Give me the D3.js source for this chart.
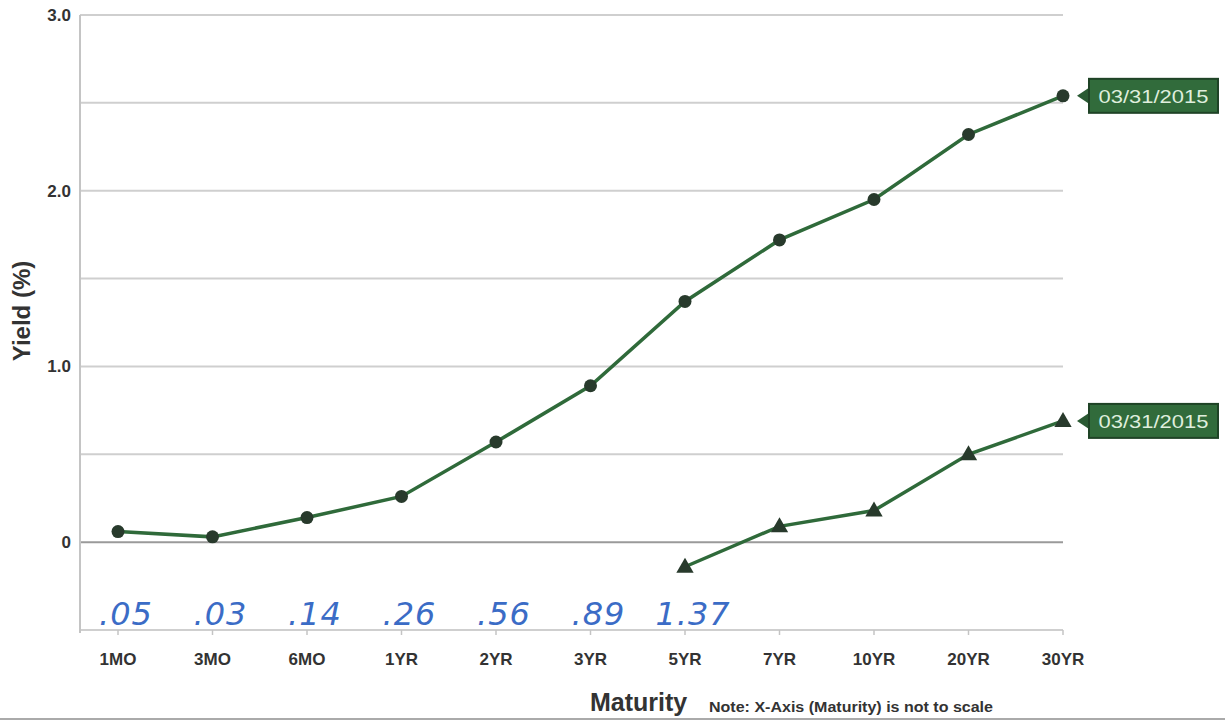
<!DOCTYPE html>
<html><head><meta charset="utf-8">
<script src="https://cdn.jsdelivr.net/npm/d3@7"></script>
<style>body{margin:0;background:#fff}svg{display:block}</style>
</head><body>
<script>
const maturities = ["1MO","3MO","6MO","1YR","2YR","3YR","5YR","7YR","10YR","20YR","30YR"];
const nominalYields = [0.06,0.03,0.14,0.26,0.57,0.89,1.37,1.72,1.95,2.32,2.54];
const tipsMaturities = ["5YR","7YR","10YR","20YR","30YR"];
const tipsYields = [-0.14,0.09,0.18,0.50,0.69];
const yTicks = [0,1.0,2.0,3.0];
const yTickLabels = ["0","1.0","2.0","3.0"];
const gridValues = [-0.5,0,0.5,1.0,1.5,2.0,2.5,3.0];
const handNotes = [".05",".03",".14",".26",".56",".89","1.37"];
const seriesLabel = "03/31/2015";

(function(){
const W=1225,H=723;
const svg=d3.select("body").append("svg").attr("width",W).attr("height",H);
const pL=80,pR=1063,pT=15,pB=630;
const x=d3.scalePoint().domain(maturities).range([118,1063]);
const y=d3.scaleLinear().domain([-0.5,3.0]).range([pB,pT]);
const font="Liberation Sans, Arial, sans-serif";

svg.append("g").selectAll("line").data(gridValues).join("line")
  .attr("x1",pL).attr("x2",pR)
  .attr("y1",d=>y(d)).attr("y2",d=>y(d))
  .attr("stroke",d=>d===0?"#9a9a9a":"#cfcfcf")
  .attr("stroke-width",2);
svg.append("line").attr("x1",pL).attr("x2",pL).attr("y1",pT).attr("y2",pB+3)
  .attr("stroke","#c4c4c4").attr("stroke-width",2);
svg.append("g").selectAll("line").data(maturities).join("line")
  .attr("x1",d=>x(d)).attr("x2",d=>x(d)).attr("y1",pB).attr("y2",pB+5)
  .attr("stroke","#c4c4c4").attr("stroke-width",1.5);

svg.append("g").selectAll("text").data(yTicks).join("text")
  .attr("x",71).attr("y",d=>y(d)+6).attr("text-anchor","end")
  .attr("font-family",font).attr("font-weight","bold")
  .attr("font-size",17).attr("fill","#333").text((d,i)=>yTickLabels[i]);
svg.append("g").selectAll("text").data(maturities).join("text")
  .attr("x",d=>x(d)).attr("y",665).attr("text-anchor","middle")
  .attr("font-family",font).attr("font-weight","bold")
  .attr("font-size",17).attr("fill","#333").text(d=>d);

svg.append("text").attr("transform","translate(30,311) rotate(-90)").attr("text-anchor","middle")
  .attr("font-family",font).attr("font-weight","bold")
  .attr("font-size",24).attr("fill","#333").text("Yield (%)");
svg.append("text").attr("x",590).attr("y",711)
  .attr("font-family",font).attr("font-weight","bold")
  .attr("font-size",25).attr("fill","#333").text("Maturity");
svg.append("text").attr("x",709).attr("y",712)
  .attr("font-family",font).attr("font-weight","bold")
  .attr("font-size",14).attr("textLength",284).attr("lengthAdjust","spacingAndGlyphs")
  .attr("fill","#333").text("Note: X-Axis (Maturity) is not to scale");
svg.append("line").attr("x1",0).attr("x2",W).attr("y1",719).attr("y2",719).attr("stroke","#aaa").attr("stroke-width",2);

const lineColor="#2f6a3a", markerColor="#283a2c";
const line=d3.line().x(d=>x(d[0])).y(d=>y(d[1]));
const nom=maturities.map((m,i)=>[m,nominalYields[i]]);
const tips=tipsMaturities.map((m,i)=>[m,tipsYields[i]]);
svg.append("path").attr("d",line(nom)).attr("fill","none").attr("stroke",lineColor).attr("stroke-width",3.5);
svg.append("path").attr("d",line(tips)).attr("fill","none").attr("stroke",lineColor).attr("stroke-width",3.5);
svg.append("g").selectAll("circle").data(nom).join("circle")
  .attr("cx",d=>x(d[0])).attr("cy",d=>y(d[1])).attr("r",6.5).attr("fill",markerColor);
const tri=d3.symbol().type(d3.symbolTriangle).size(130);
svg.append("g").selectAll("path").data(tips).join("path")
  .attr("transform",d=>`translate(${x(d[0])},${y(d[1])+1})`).attr("d",tri).attr("fill",markerColor);

function endLabel(pt){
  const px=x(pt[0]), py=y(pt[1]);
  const bx=px+26, bw=129, bh=34;
  const g=svg.append("g");
  g.append("path").attr("d",`M${bx-12},${py} L${bx},${py-8} L${bx},${py+8} Z`).attr("fill","#2a5a33");
  g.append("rect").attr("x",bx).attr("y",py-bh/2).attr("width",bw).attr("height",bh)
    .attr("fill","#316b3b").attr("stroke","#1f4326").attr("stroke-width",2);
  g.append("text").attr("x",bx+bw/2).attr("y",py+7).attr("text-anchor","middle")
    .attr("font-family",font).attr("font-size",18).attr("textLength",110).attr("lengthAdjust","spacingAndGlyphs")
    .attr("fill","#dfeedd").text(seriesLabel);
}
endLabel(nom[nom.length-1]);
endLabel(tips[tips.length-1]);

svg.append("g").selectAll("text").data(handNotes).join("text")
  .attr("x",(d,i)=>x(maturities[i])+8).attr("y",625).attr("text-anchor","middle")
  .attr("font-family","DejaVu Sans, sans-serif").attr("font-style","italic")
  .attr("font-size",32).attr("fill","#3b6cc6").attr("letter-spacing",1).text(d=>d);
})();
</script>
</body></html>
